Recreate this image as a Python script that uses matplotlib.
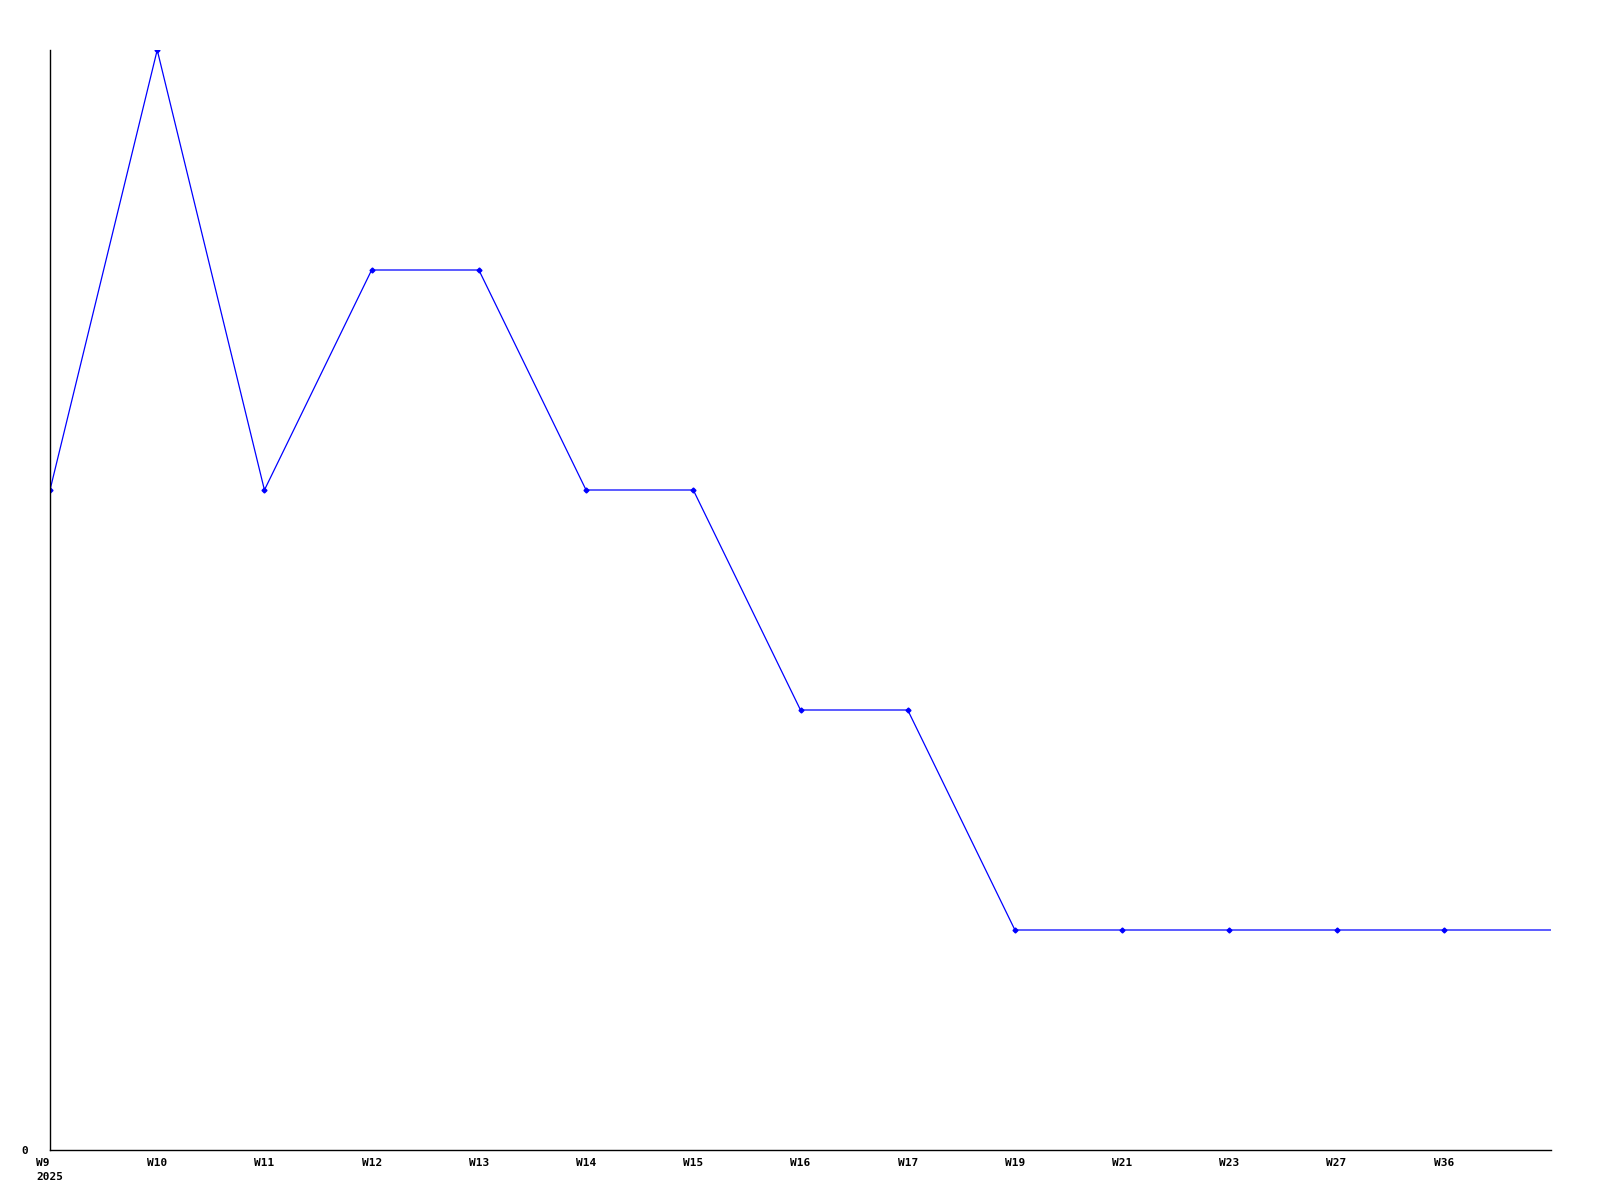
import matplotlib.pyplot as plt

weeks = ["W9\n2025", "W10", "W11", "W12", "W13", "W14", "W15", "W16",
         "W17", "W19", "W21", "W23", "W27", "W36"]
values = [3, 5, 3, 4, 4, 3, 3, 2, 2, 1, 1, 1, 1, 1]
tail_value = 1  # line runs on to the right edge after W36

fig = plt.figure(figsize=(16, 12), dpi=100)
ax = fig.add_axes([50 / 1600, 50 / 1200, 1501 / 1600, 1100 / 1200])

x = list(range(len(values)))
ax.plot(x + [len(values)], values + [tail_value], color="blue", lw=0.9)
ax.plot(x, values, ls="none", marker="D", markersize=2.5, color="blue")

ax.set_xlim(0, len(values))
ax.set_ylim(0, 5)

for s in ["top", "right"]:
    ax.spines[s].set_visible(False)
for s in ["left", "bottom"]:
    ax.spines[s].set_linewidth(1)

font = dict(family="DejaVu Sans Mono", weight="bold", size=8)
ax.set_xticks(x)
ax.set_xticklabels(weeks, ha="center", va="top", multialignment="left",
                   linespacing=1.5, **font)
ax.set_yticks([0])
ax.set_yticklabels(["0"], **font)
ax.tick_params(length=0, pad=6)
ax.tick_params(axis="y", pad=16)

fig.savefig("out.png")
